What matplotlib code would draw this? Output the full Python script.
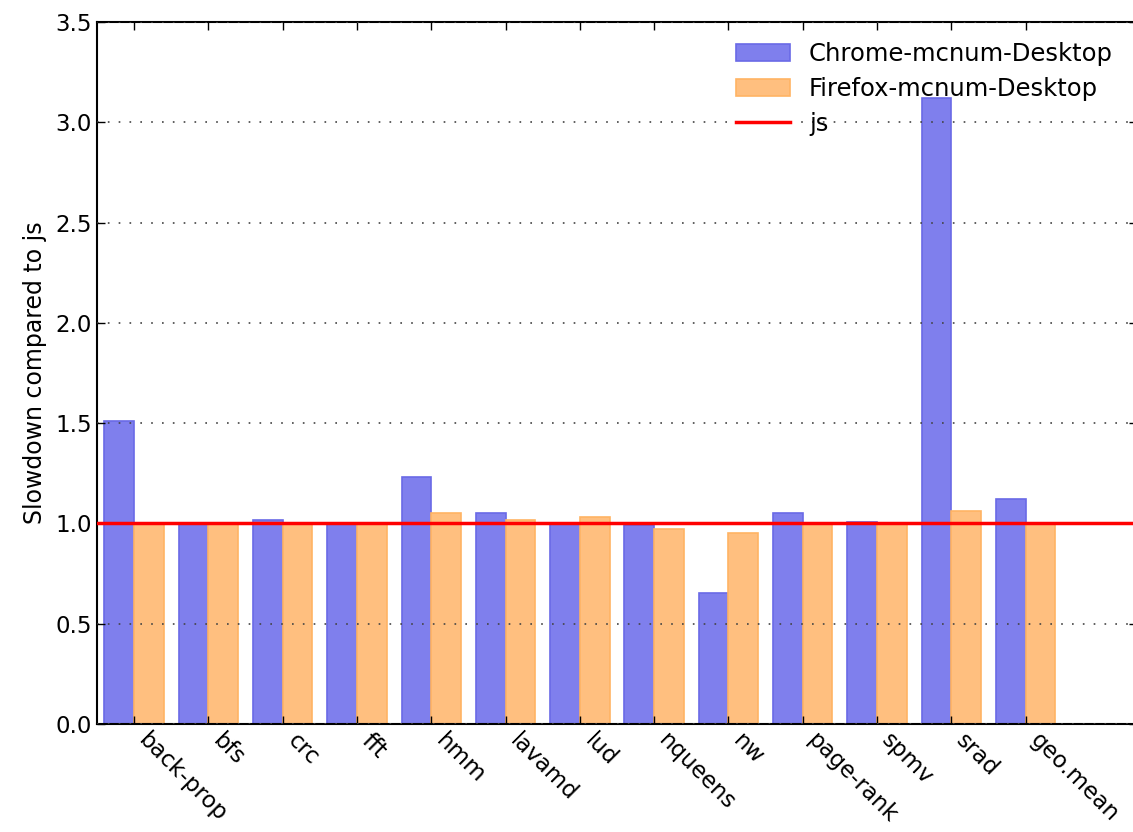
import numpy as np
import matplotlib
matplotlib.use("Agg")
import matplotlib.pyplot as plt

# slowdown of each benchmark relative to plain js
benchmarks = ["back-prop", "bfs", "crc", "fft", "hmm", "lavamd", "lud",
              "nqueens", "nw", "page-rank", "spmv", "srad", "geo.mean"]
chrome = [1.51, 1.0, 1.015, 1.0, 1.23, 1.05, 1.0, 0.99, 0.655, 1.05, 1.005, 3.12, 1.12]
firefox = [1.0, 1.0, 1.0, 1.0, 1.05, 1.015, 1.03, 0.97, 0.95, 1.0, 1.0, 1.06, 1.0]
y_ticks = [0.0, 0.5, 1.0, 1.5, 2.0, 2.5, 3.0, 3.5]

width = 0.4
x = np.arange(len(benchmarks))

fig = plt.figure(figsize=(11.33, 8.32), dpi=100)
ax = fig.add_axes([0.0856, 0.1298, 0.918, 0.8438])

b1 = ax.bar(x - width, chrome, width, align="edge", color="#7f7fed",
            edgecolor="#6a6ae6", linewidth=1.2, label="Chrome-mcnum-Desktop", zorder=2)
b2 = ax.bar(x, firefox, width, align="edge", color="#ffbf7f",
            edgecolor="#ffb464", linewidth=1.2, label="Firefox-mcnum-Desktop", zorder=2)
js = ax.axhline(1.0, color="red", linewidth=2.5, label="js", zorder=3)

ax.set_xlim(-0.5, 13.5)
ax.set_ylim(0, 3.5)
ax.set_yticks(y_ticks)
ax.set_yticklabels(["%.1f" % v for v in y_ticks], fontsize=16.5)
ax.set_xticks(x)
ax.set_xticklabels(benchmarks, rotation=-45, ha="left", fontsize=16.5)
ax.set_ylabel("Slowdown compared to js", fontsize=17, labelpad=6)

ax.yaxis.grid(True, linestyle=(0, (1, 5.5)), color="#444444", linewidth=1.2, zorder=4)
ax.set_axisbelow(False)
ax.tick_params(direction="in", top=True, right=True, length=6, width=1)
for s in ax.spines.values():
    s.set_linewidth(1.5)

ax.legend([b1, b2, js], ["Chrome-mcnum-Desktop", "Firefox-mcnum-Desktop", "js"],
          loc="upper right", frameon=False, fontsize=17.5,
          bbox_to_anchor=(0.998, 1.003), handlelength=2.2, labelspacing=0.45)

fig.savefig("out.png", dpi=100)
